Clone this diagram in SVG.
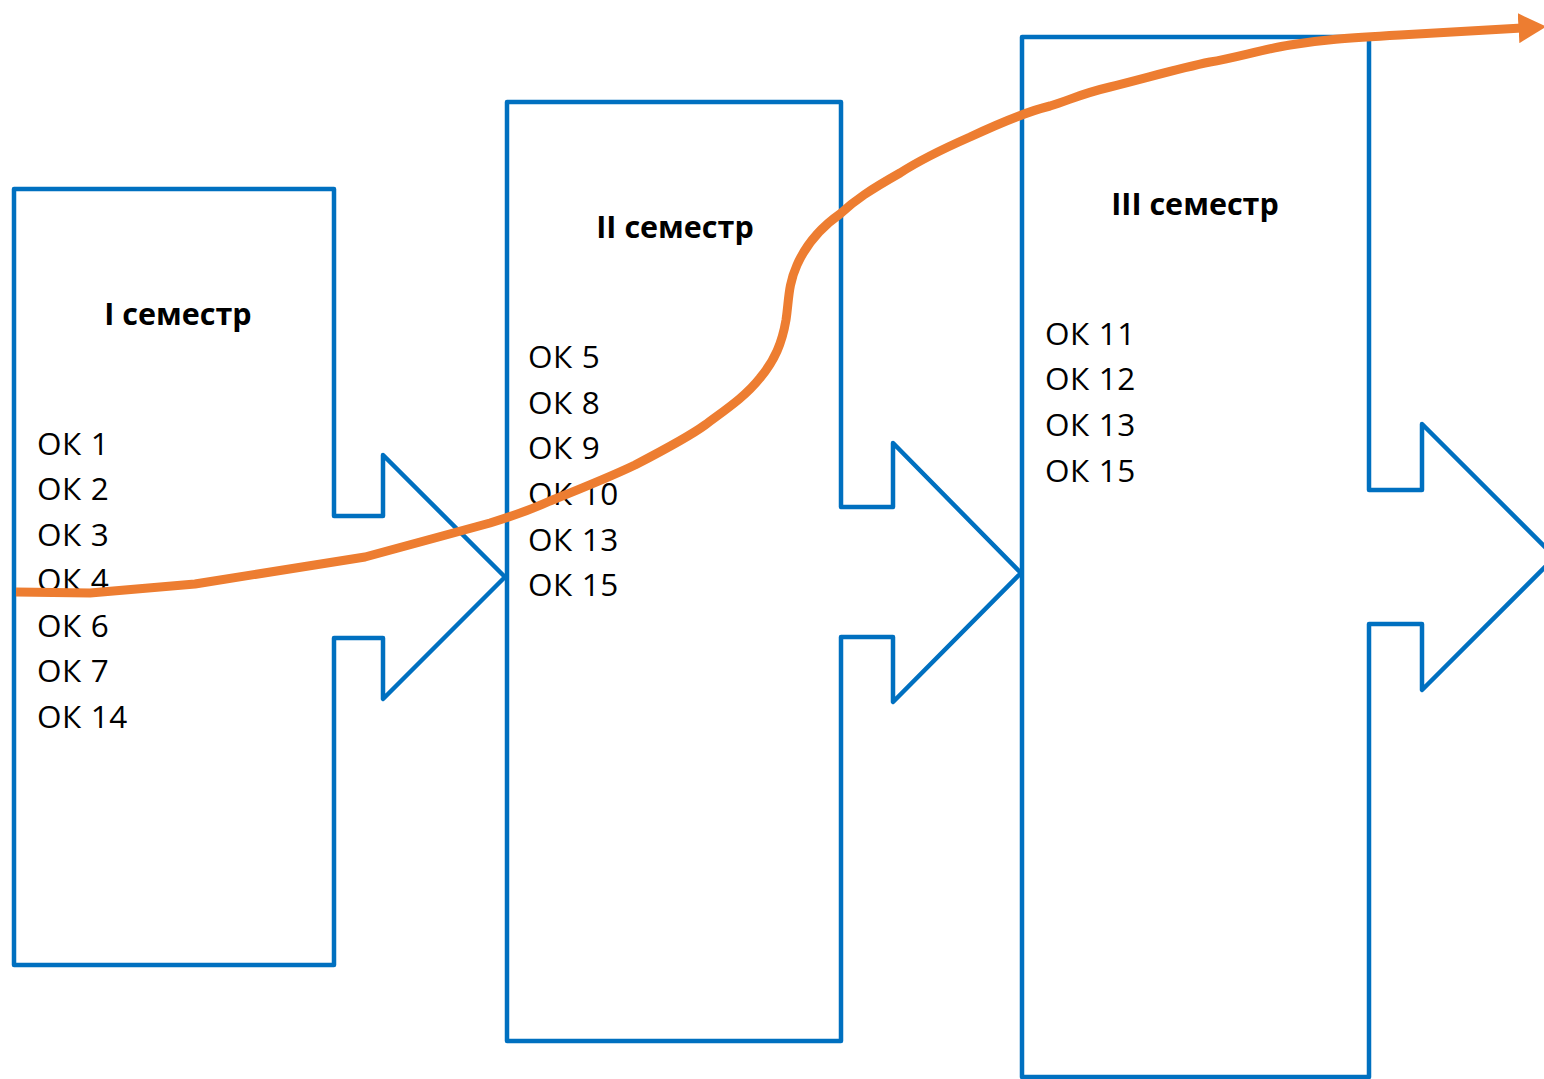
<svg xmlns="http://www.w3.org/2000/svg" width="1544" height="1079" viewBox="0 0 1544 1079">
<style>
.shape{fill:none;stroke:#0070C0;stroke-width:4.5;stroke-linejoin:round}
.title{font-family:"Open Sans","Noto Sans",sans-serif;font-weight:bold;font-size:30.5px;fill:#000;text-anchor:middle}
.item{font-family:"Open Sans","Noto Sans",sans-serif;font-size:31.5px;letter-spacing:0.6px;fill:#000}
.flow{fill:none;stroke:#ED7D31;stroke-width:9;stroke-linejoin:round;stroke-linecap:butt}
</style>
<defs>
<marker id="ah" markerUnits="userSpaceOnUse" markerWidth="30" markerHeight="30" refX="3" refY="13" orient="auto" viewBox="0 0 26 26">
<path d="M0,0 L24,13 L0,26 Z" fill="#ED7D31"/>
</marker>
</defs>
<g id="node1">
<path class="shape" d="M14,189 H334 V516 H383 V455 L505,577 L383,699 V638 H334 V965 H14 Z"/>
<text class="title" x="178" y="325">I семестр</text>
<text class="item" x="37" y="455">ОК 1</text>
<text class="item" x="37" y="500">ОК 2</text>
<text class="item" x="37" y="546">ОК 3</text>
<text class="item" x="37" y="591">ОК 4</text>
<text class="item" x="37" y="637">ОК 6</text>
<text class="item" x="37" y="682">ОК 7</text>
<text class="item" x="37" y="728">ОК 14</text>
</g>
<g id="node2">
<path class="shape" d="M507,102 H841 V507 H893 V443 L1021,573 L893,702 V637 H841 V1041 H507 Z"/>
<text class="title" x="675" y="238">II семестр</text>
<text class="item" x="528" y="368">ОК 5</text>
<text class="item" x="528" y="414">ОК 8</text>
<text class="item" x="528" y="459">ОК 9</text>
<text class="item" x="528" y="505">ОК 10</text>
<text class="item" x="528" y="551">ОК 13</text>
<text class="item" x="528" y="596">ОК 15</text>
</g>
<g id="node3">
<path class="shape" d="M1022,37 H1369 V490 H1422 V424 L1555,557 L1422,690 V624 H1369 V1077 H1022 Z"/>
<text class="title" x="1195" y="215">III семестр</text>
<text class="item" x="1045" y="345">ОК 11</text>
<text class="item" x="1045" y="390">ОК 12</text>
<text class="item" x="1045" y="436">ОК 13</text>
<text class="item" x="1045" y="482">ОК 15</text>
</g>
<g id="connectors">
<path class="flow" marker-end="url(#ah)" d="M16,592 L90,593 L195,584 L365,557 L490,523 C510,517 530,510 550,501 C580,489 610,477 635,465 C660,452 690,436 705,425 C725,410 745,397 760,378 C775,360 782,343 786,320 C789,300 788,285 797,265 C805,247 820,228 840,214 C855,200 870,190 900,173 C920,160 945,148 970,137 C1000,123 1025,112 1050,106 C1070,100 1080,94 1110,87 C1150,77 1180,68 1210,62 C1235,58 1260,50 1290,45 C1320,40 1345,38 1400,35 L1522,28"/>
</g>
</svg>
